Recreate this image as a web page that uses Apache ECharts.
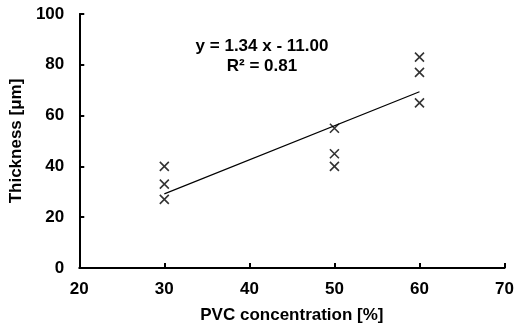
<!DOCTYPE html>
<html>
<head>
<meta charset="utf-8">
<script src="https://cdn.jsdelivr.net/npm/echarts@6/dist/echarts.min.js"></script>
<style>
  html, body { margin: 0; padding: 0; background: #fff; }
  #chart { width: 517px; height: 331px; }
</style>
</head>
<body>
<div id="chart"></div>
<script>
// measured film thickness per PVC concentration
const pvcConc = [30, 30, 30, 50, 50, 50, 60, 60, 60]
const thickness = [40, 33, 27, 55, 45, 40, 83, 77, 65]

// linear trendline (as printed on the chart)
const slope = 1.34
const intercept = -11.0
const rSquared = 0.81
const trendRange = [30, 60]

const xTicks = { min: 20, max: 70, interval: 10 }
const yTicks = { min: 0, max: 100, interval: 20 }

const chart = echarts.init(document.getElementById("chart"), null, { renderer: "canvas" })

const font = "'Liberation Sans', Arial, sans-serif"
const cross = "path://M0,0L10,10M10,0L0,10"

const points = pvcConc.map((x, i) => [x, thickness[i]])
const trend = trendRange.map((x) => [x, slope * x + intercept])

const axisCommon = {
  axisLine: { show: true, lineStyle: { color: "#000", width: 2 } },
  axisTick: { show: true, inside: true, length: 5, lineStyle: { color: "#000", width: 2 } },
  axisLabel: { color: "#000", fontFamily: font, fontWeight: "bold", fontSize: 17 },
  splitLine: { show: false },
  nameLocation: "middle",
  nameTextStyle: { color: "#000", fontFamily: font, fontWeight: "bold", fontSize: 17 },
}

const option = {
  backgroundColor: "#fff",
  animation: false,
  grid: { left: 79, right: 10, top: 14, bottom: 63 },
  xAxis: {
    ...axisCommon,
    type: "value",
    ...xTicks,
    name: "PVC concentration [%]",
    nameGap: 39,
    axisLabel: { ...axisCommon.axisLabel, margin: 13 },
  },
  yAxis: {
    ...axisCommon,
    type: "value",
    ...yTicks,
    name: "Thickness [μm]",
    nameGap: 52,
    axisLabel: { ...axisCommon.axisLabel, margin: 15 },
  },
  graphic: [
    {
      type: "text",
      x: 262,
      y: 36,
      style: {
        text: "y = " + slope.toFixed(2) + " x - " + Math.abs(intercept).toFixed(2) + "\nR² = " + rSquared.toFixed(2),
        fill: "#000",
        font: "bold 17px " + font,
        align: "center",
        lineHeight: 20,
      },
    },
  ],
  series: [
    {
      type: "line",
      data: trend,
      symbol: "none",
      lineStyle: { color: "#000", width: 1.2 },
      silent: true,
      z: 1,
    },
    {
      type: "scatter",
      data: points,
      symbol: cross,
      symbolSize: 9,
      itemStyle: { color: "transparent", borderColor: "#000", borderWidth: 1.6 },
      z: 2,
    },
  ],
}

chart.setOption(option)
</script>
</body>
</html>
